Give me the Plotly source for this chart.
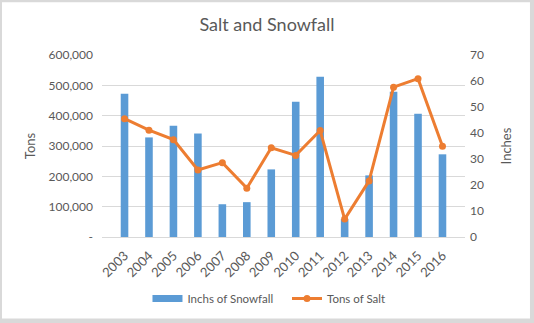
import plotly.graph_objects as go

years = ["2003", "2004", "2005", "2006", "2007", "2008", "2009",
         "2010", "2011", "2012", "2013", "2014", "2015", "2016"]
snowfall_inches = [55.1, 38.3, 42.8, 39.8, 12.6, 13.4, 26.0,
                   52.0, 61.6, 6.9, 23.7, 55.9, 47.4, 31.8]
salt_tons = [390000, 352000, 321000, 221000, 245000, 161000, 294000,
             269000, 351000, 59000, 185000, 494000, 522000, 299000]

tons_ticks = [0, 100000, 200000, 300000, 400000, 500000, 600000]
tons_labels = ["-", "100,000", "200,000", "300,000", "400,000", "500,000", "600,000"]
inch_ticks = [0, 10, 20, 30, 40, 50, 60, 70]

BLUE = "#5b9bd5"
ORANGE = "#ed7d31"
TEXT = "#595959"
GRID = "#d9d9d9"
FONT = "Lato, Open Sans, sans-serif"

fig = go.Figure()
fig.add_trace(go.Bar(
    x=years, y=snowfall_inches, name="Inchs of Snowfall",
    marker=dict(color=BLUE, line=dict(width=0)),
    yaxis="y", showlegend=False,
))
# wide flat legend swatch for the snowfall bars
fig.add_trace(go.Scatter(
    x=[None], y=[None], name="Inchs of Snowfall&nbsp;&nbsp;&nbsp;", mode="lines",
    line=dict(color=BLUE, width=7), yaxis="y", hoverinfo="skip",
))
fig.add_trace(go.Scatter(
    x=years, y=salt_tons, name="Tons of Salt",
    mode="lines+markers",
    line=dict(color=ORANGE, width=3),
    marker=dict(color=ORANGE, size=7),
    yaxis="y2",
))

# white chart area inside a light grey frame
fig.add_shape(type="rect", xref="paper", yref="paper",
              x0=-0.2755, x1=1.179, y0=-0.448, y1=1.2896,
              fillcolor="white", line=dict(width=0), layer="below")

fig.update_layout(
    width=534, height=323,
    margin=dict(l=102, r=69, t=55, b=85),
    paper_bgcolor=GRID,
    plot_bgcolor="rgba(0,0,0,0)",
    font=dict(family=FONT, color=TEXT, size=12),
    title=dict(text="Salt and Snowfall", x=0.5, xref="container", xanchor="center",
               y=1 - 25 / 323, yanchor="middle",
               font=dict(size=18, color=TEXT, family=FONT)),
    bargap=0.69,
    showlegend=True,
    legend=dict(orientation="h", x=0.46, xanchor="center", y=-0.33, yanchor="middle",
                font=dict(size=11.5, color=TEXT), bgcolor="rgba(0,0,0,0)",
                itemwidth=30, tracegroupgap=0),
    xaxis=dict(
        type="category", tickangle=-45, showgrid=False,
        showline=True, linecolor=GRID, linewidth=1,
        ticks="", tickfont=dict(size=13, color=TEXT),
        ticklabelstandoff=5,
    ),
    yaxis=dict(
        side="right", range=[0, 70], tickvals=inch_ticks,
        showgrid=False, zeroline=False, showline=False,
        tickfont=dict(size=12, color=TEXT), ticklabelstandoff=4,
        title=dict(text="Inches", font=dict(size=13, color=TEXT), standoff=18),
    ),
    yaxis2=dict(
        side="left", overlaying="y", range=[0, 600000],
        tickvals=tons_ticks, ticktext=tons_labels,
        showgrid=True, gridcolor=GRID, gridwidth=1, zeroline=False,
        tickfont=dict(size=12, color=TEXT), ticklabelstandoff=8,
        title=dict(text="Tons", font=dict(size=13, color=TEXT), standoff=9),
    ),
)

fig.write_html("out.html")
